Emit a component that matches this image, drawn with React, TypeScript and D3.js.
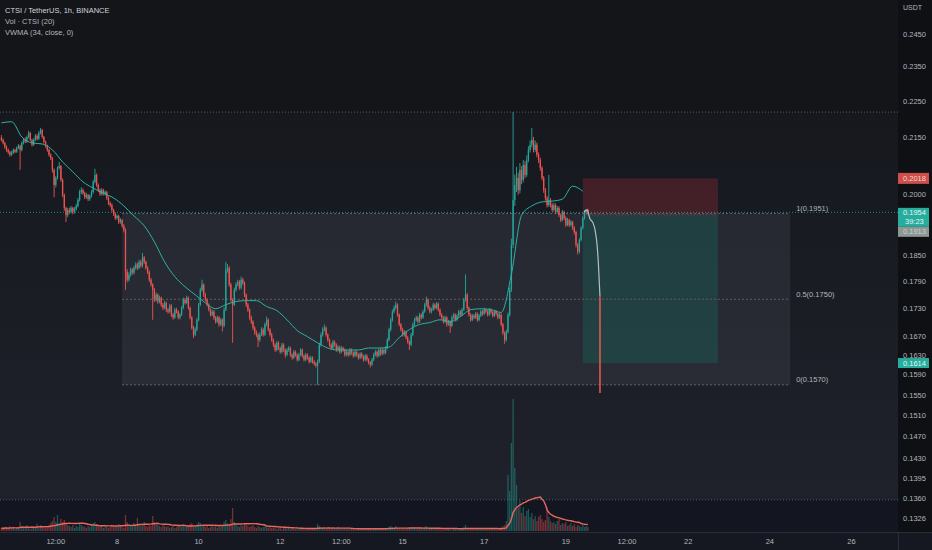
import React from 'react';
import * as d3 from 'd3';

// 1h candles, CTSI / TetherUS, prices in 1e-4 USDT
const HOUR = 3600000;
const startTime = Date.UTC(2023, 2, 5, 4);
const firstOpen = 2148;

const closes = [
  2142, 2134, 2123, 2115, 2110, 2102, 2107, 2115, 2110, 2120,
  2126, 2115, 2134, 2142, 2137, 2150, 2161, 2142, 2129, 2142,
  2153, 2145, 2161, 2169, 2150, 2137, 2126, 2115, 2102, 2093,
  2062, 2023, 2041, 2067, 2072, 2036, 1997, 1965, 1947, 1960,
  1955, 1965, 1955, 1962, 1970, 1985, 2005, 2010, 2002, 1992,
  1997, 1987, 1995, 2005, 2031, 2049, 2023, 2010, 2000, 2010,
  2000, 2005, 1990, 1977, 1972, 1960, 1950, 1940, 1945, 1930,
  1935, 1921, 1911, 1812, 1794, 1805, 1817, 1810, 1821, 1829,
  1821, 1835, 1826, 1845, 1835, 1821, 1812, 1794, 1783, 1771,
  1749, 1760, 1745, 1753, 1738, 1731, 1742, 1727, 1723, 1736,
  1716, 1710, 1727, 1723, 1710, 1716, 1731, 1749, 1742, 1753,
  1731, 1710, 1688, 1673, 1684, 1705, 1738, 1771, 1783, 1760,
  1749, 1738, 1727, 1716, 1723, 1710, 1701, 1710, 1695, 1705,
  1692, 1727, 1817, 1821, 1783, 1749, 1738, 1771, 1783, 1789,
  1776, 1794, 1787, 1760, 1738, 1727, 1710, 1701, 1688, 1678,
  1673, 1662, 1673, 1684, 1673, 1695, 1705, 1684, 1673, 1662,
  1652, 1641, 1656, 1645, 1637, 1652, 1641, 1631, 1641, 1645,
  1631, 1625, 1637, 1631, 1621, 1631, 1641, 1629, 1621, 1631,
  1625, 1617, 1625, 1617, 1613, 1609, 1617, 1652, 1673, 1684,
  1688, 1673, 1662, 1652, 1645, 1658, 1652, 1641, 1647, 1637,
  1645, 1641, 1631, 1637, 1631, 1641, 1635, 1629, 1637, 1631,
  1625, 1633, 1627, 1621, 1629, 1621, 1615, 1611, 1621, 1631,
  1637, 1629, 1641, 1633, 1641, 1635, 1645, 1662, 1684, 1705,
  1723, 1731, 1738, 1716, 1695, 1684, 1673, 1679, 1667, 1658,
  1652, 1673, 1695, 1705, 1710, 1701, 1716, 1710, 1723, 1738,
  1749, 1731, 1723, 1727, 1738, 1731, 1740, 1727, 1716, 1710,
  1701, 1710, 1695, 1701, 1692, 1710, 1716, 1705, 1714, 1723,
  1716, 1727, 1749, 1760, 1731, 1716, 1705, 1714, 1710, 1718,
  1705, 1714, 1723, 1718, 1727, 1723, 1716, 1727, 1721, 1714,
  1723, 1718, 1710, 1716, 1695, 1677, 1662, 1679, 1716, 1771,
  1875, 1985, 2023, 2041, 2010, 2062, 2036, 2075, 2049, 2088,
  2115, 2129, 2142, 2115, 2129, 2102, 2088, 2067, 2041, 2010,
  1990, 1972, 1985, 1972, 1960, 1972, 1955, 1965, 1947, 1935,
  1955, 1940, 1923, 1935, 1923, 1930, 1916, 1906, 1875, 1859,
  1887, 1916, 1940, 1955, 1960, 1954,
];

const highs = [
  2155, 2146, 2137, 2127, 2119, 2113, 2112, 2119, 2118, 2124,
  2131, 2129, 2138, 2147, 2149, 2154, 2167, 2164, 2145, 2147,
  2158, 2157, 2166, 2175, 2172, 2153, 2140, 2129, 2118, 2106,
  2096, 2066, 2046, 2071, 2083, 2075, 2040, 2001, 1968, 1965,
  1966, 1970, 1968, 1967, 1975, 1990, 2011, 2017, 2014, 2006,
  2003, 2000, 1999, 2010, 2036, 2065, 2053, 2027, 2014, 2015,
  2013, 2009, 2008, 1994, 1981, 1976, 1963, 1954, 1949, 1948,
  1940, 1938, 1925, 1915, 1818, 1811, 1822, 1821, 1826, 1834,
  1833, 1840, 1839, 1856, 1849, 1838, 1825, 1815, 1798, 1786,
  1775, 1765, 1763, 1758, 1756, 1742, 1747, 1745, 1731, 1740,
  1739, 1720, 1731, 1731, 1726, 1720, 1735, 1754, 1753, 1758,
  1756, 1734, 1713, 1692, 1689, 1709, 1742, 1776, 1794, 1786,
  1764, 1752, 1741, 1730, 1727, 1726, 1713, 1714, 1713, 1709,
  1708, 1732, 1835, 1830, 1825, 1787, 1752, 1776, 1788, 1794,
  1793, 1801, 1798, 1790, 1763, 1742, 1730, 1714, 1704, 1691,
  1682, 1676, 1678, 1689, 1688, 1699, 1712, 1708, 1687, 1677,
  1665, 1655, 1660, 1659, 1648, 1656, 1655, 1644, 1645, 1649,
  1648, 1634, 1641, 1640, 1634, 1635, 1645, 1644, 1632, 1635,
  1634, 1628, 1629, 1628, 1620, 1616, 1621, 1656, 1678, 1689,
  1695, 1691, 1676, 1665, 1655, 1662, 1661, 1655, 1651, 1650,
  1649, 1648, 1644, 1641, 1640, 1645, 1644, 1638, 1641, 1640,
  1634, 1637, 1636, 1630, 1633, 1632, 1624, 1618, 1625, 1635,
  1641, 1640, 1645, 1644, 1645, 1644, 1649, 1666, 1688, 1709,
  1727, 1736, 1745, 1741, 1719, 1698, 1688, 1683, 1682, 1670,
  1661, 1677, 1699, 1709, 1714, 1713, 1720, 1719, 1727, 1742,
  1756, 1752, 1735, 1731, 1742, 1741, 1744, 1743, 1730, 1719,
  1713, 1714, 1713, 1705, 1704, 1714, 1720, 1719, 1718, 1727,
  1726, 1731, 1753, 1806, 1764, 1734, 1719, 1718, 1717, 1722,
  1721, 1718, 1727, 1726, 1731, 1730, 1726, 1731, 1730, 1724,
  1727, 1726, 1721, 1720, 1719, 1698, 1680, 1684, 1721, 1777,
  1890, 2219, 2050, 2070, 2055, 2080, 2072, 2088, 2085, 2100,
  2125, 2140, 2175, 2150, 2140, 2135, 2108, 2094, 2072, 2046,
  2015, 1995, 2049, 1990, 1977, 1978, 1976, 1970, 1969, 1951,
  1960, 1958, 1944, 1940, 1938, 1935, 1933, 1920, 1909, 1879,
  1891, 1920, 1944, 1959, 1962, 1963,
];

const lows = [
  2138, 2130, 2118, 2110, 2104, 2097, 2099, 2104, 2106, 2107,
  2117, 2062, 2111, 2130, 2133, 2134, 2146, 2138, 2124, 2126,
  2139, 2140, 2142, 2157, 2146, 2132, 2121, 2110, 2097, 2088,
  2055, 1992, 2017, 2037, 2063, 2031, 1992, 1958, 1930, 1942,
  1950, 1951, 1949, 1951, 1958, 1966, 1981, 2000, 1997, 1987,
  1988, 1982, 1983, 1991, 2001, 2027, 2018, 2005, 1995, 1996,
  1996, 1996, 1985, 1972, 1967, 1955, 1945, 1935, 1936, 1925,
  1926, 1916, 1905, 1771, 1788, 1790, 1801, 1805, 1806, 1817,
  1816, 1818, 1822, 1822, 1830, 1817, 1807, 1789, 1778, 1705,
  1744, 1745, 1740, 1741, 1733, 1726, 1728, 1722, 1718, 1720,
  1711, 1705, 1707, 1719, 1706, 1706, 1713, 1728, 1738, 1739,
  1727, 1706, 1684, 1666, 1670, 1680, 1702, 1735, 1767, 1755,
  1745, 1734, 1723, 1712, 1713, 1705, 1697, 1698, 1690, 1692,
  1680, 1689, 1724, 1810, 1778, 1744, 1656, 1735, 1767, 1779,
  1771, 1772, 1782, 1755, 1733, 1722, 1705, 1696, 1683, 1673,
  1668, 1647, 1658, 1670, 1669, 1670, 1691, 1680, 1669, 1658,
  1647, 1637, 1638, 1641, 1633, 1634, 1637, 1625, 1628, 1637,
  1627, 1621, 1622, 1627, 1617, 1618, 1628, 1625, 1617, 1618,
  1621, 1613, 1614, 1613, 1609, 1605, 1570, 1614, 1648, 1669,
  1680, 1669, 1658, 1648, 1641, 1642, 1648, 1637, 1638, 1633,
  1634, 1637, 1627, 1628, 1627, 1628, 1631, 1625, 1626, 1627,
  1621, 1622, 1623, 1617, 1618, 1617, 1611, 1605, 1608, 1618,
  1628, 1625, 1626, 1629, 1630, 1631, 1632, 1642, 1659, 1680,
  1701, 1719, 1727, 1712, 1691, 1680, 1669, 1669, 1663, 1654,
  1641, 1649, 1670, 1691, 1701, 1697, 1698, 1706, 1707, 1720,
  1734, 1727, 1719, 1719, 1724, 1727, 1728, 1723, 1712, 1706,
  1697, 1698, 1690, 1692, 1677, 1689, 1706, 1701, 1702, 1710,
  1712, 1713, 1724, 1745, 1727, 1712, 1701, 1702, 1706, 1707,
  1701, 1702, 1711, 1714, 1715, 1719, 1712, 1713, 1717, 1710,
  1711, 1714, 1706, 1707, 1691, 1672, 1654, 1659, 1676, 1712,
  1766, 1868, 1970, 2005, 1998, 2002, 2025, 2030, 2040, 2044,
  2082, 2108, 2122, 2108, 2110, 2095, 2080, 2060, 2035, 2003,
  1983, 1966, 1968, 1966, 1955, 1956, 1950, 1951, 1942, 1930,
  1932, 1935, 1918, 1920, 1918, 1919, 1911, 1900, 1869, 1852,
  1855, 1883, 1912, 1936, 1950, 1948,
];

// volume, 100k CTSI
const volumes = [
  3, 2, 4, 3, 2, 5, 3, 4, 2, 3,
  4, 9, 5, 3, 4, 6, 3, 2, 5, 4,
  3, 7, 5, 6, 4, 3, 5, 4, 6, 8,
  10, 14, 9, 16, 8, 12, 9, 11, 7, 6,
  5, 4, 6, 3, 5, 4, 7, 6, 5, 4,
  3, 5, 4, 6, 8, 9, 7, 5, 4, 6,
  3, 4, 5, 3, 4, 6, 5, 4, 5, 7,
  6, 4, 3, 16, 9, 7, 6, 5, 8, 6,
  13, 7, 5, 6, 9, 5, 4, 6, 5, 15,
  9, 7, 6, 5, 4, 6, 5, 4, 5, 3,
  4, 5, 3, 4, 6, 5, 4, 7, 5, 6,
  5, 7, 8, 6, 5, 7, 9, 8, 6, 5,
  4, 5, 3, 4, 5, 4, 6, 3, 5, 4,
  6, 9, 11, 8, 7, 12, 23, 9, 6, 5,
  4, 6, 5, 7, 6, 5, 4, 5, 6, 4,
  3, 5, 4, 3, 4, 6, 5, 3, 4, 3,
  4, 3, 2, 3, 4, 2, 3, 3, 2, 3,
  2, 3, 2, 2, 3, 2, 3, 2, 2, 3,
  2, 3, 2, 2, 3, 3, 7, 5, 4, 3,
  3, 2, 3, 2, 2, 3, 2, 2, 3, 2,
  2, 2, 3, 2, 2, 3, 2, 2, 2, 3,
  2, 2, 2, 3, 2, 2, 3, 3, 2, 2,
  2, 3, 2, 2, 2, 3, 2, 3, 4, 5,
  4, 3, 5, 3, 3, 2, 3, 2, 2, 3,
  3, 3, 2, 3, 2, 2, 3, 2, 3, 4,
  5, 3, 2, 3, 2, 2, 3, 2, 2, 2,
  2, 2, 3, 2, 3, 2, 2, 2, 2, 2,
  2, 3, 4, 6, 3, 2, 2, 2, 3, 2,
  2, 2, 3, 2, 2, 2, 3, 2, 2, 2,
  2, 3, 2, 2, 4, 5, 6, 10, 56, 40,
  88, 132, 63, 46, 25, 31, 18, 24, 15, 20,
  22, 14, 18, 12, 15, 10, 14, 16, 12, 9,
  11, 24, 14, 10, 8, 9, 7, 10, 12, 6,
  8, 7, 9, 5, 6, 8, 5, 7, 4, 6,
  5, 4, 6, 4, 5, 4,
];

// VWMA(34) read every 6 bars
const vwmaStep = 6;
const vwma34 = [
  2189, 2192, 2150, 2134, 2131, 2115, 2083, 2057, 2031, 2015,
  2002, 1990, 1970, 1945, 1921, 1882, 1835, 1801, 1778, 1760,
  1742, 1729, 1738, 1745, 1747, 1747, 1734, 1725, 1705, 1682,
  1669, 1656, 1645, 1641, 1641, 1641, 1645, 1645, 1647, 1667,
  1684, 1695, 1699, 1705, 1701, 1712, 1727, 1729, 1727, 1721,
  1806, 1947, 1970, 1980, 1982, 1987, 2020, 2007,
];
const volMaLength = 20;

const lastPrice = 0.1954;
const bandTop = 0.2219;
const bandBottom = 0.1357;

const fibStartHour = 71;
const fibEndHour = 464;
const fibLevels = [
  { ratio: '1', price: 0.1951 },
  { ratio: '0.5', price: 0.175 },
  { ratio: '0', price: 0.157 },
];

const positionStartHour = 342;
const positionEndHour = 421.5;
const positionStop = 0.204;
const positionEntry = 0.1948;
const positionTarget = 0.1614;

// hand-drawn projection after the last bar: [hour, price]
const projection: [number, number][] = [
  [342.7, 0.1955], [344.5, 0.196], [346.2, 0.1938], [348, 0.1928],
  [349.2, 0.1911], [350.4, 0.1875], [351.2, 0.1829], [352.1, 0.1756],
];
const dropLine: [number, number][] = [[352.1, 0.1756], [352.1, 0.1554]];

const priceTicks = [
  0.245, 0.235, 0.225, 0.215, 0.2, 0.185, 0.179,
  0.173, 0.167, 0.163, 0.159, 0.155, 0.151, 0.147, 0.143, 0.1395, 0.136, 0.1326,
];

const timeTicks: [number, number, string][] = [
  [6, 12, '12:00'], [8, 0, '8'], [10, 0, '10'], [12, 0, '12'], [13, 12, '12:00'],
  [15, 0, '15'], [17, 0, '17'], [19, 0, '19'], [20, 12, '12:00'], [22, 0, '22'],
  [24, 0, '24'], [26, 0, '26'],
];

const legendLines = ['CTSI / TetherUS, 1h, BINANCE', 'Vol · CTSI (20)', 'VWMA (34, close, 0)'];

const UP = '#26a69a';
const DOWN = '#ef5350';
const FONT = '"Liberation Sans", Arial, sans-serif';

const W = 932;
const H = 550;
const plotRight = 898;
const plotBottom = 532;

export default function App() {
  const hourTime = (h: number) => new Date(startTime + h * HOUR);

  const x = d3
    .scaleTime()
    .domain([new Date(Date.UTC(2023, 2, 8)), new Date(Date.UTC(2023, 2, 10))])
    .range([117, 198.6]);
  const y = d3.scaleLog().domain([0.245, 0.1326]).range([34, 518]);
  const vy = d3.scaleLinear().domain([0, 140]).range([531, 391]);

  const candles = closes.map((c, i) => ({
    t: hourTime(i),
    o: (i === 0 ? firstOpen : closes[i - 1]) / 1e4,
    h: highs[i] / 1e4,
    l: lows[i] / 1e4,
    c: c / 1e4,
    v: volumes[i],
  }));

  const volMa = volumes.map((_, i) =>
    d3.mean(volumes.slice(Math.max(0, i - volMaLength + 1), i + 1)) as number
  );

  const line = d3.line<[number, number]>().x((d) => d[0]).y((d) => d[1]);
  const smooth = d3
    .line<[number, number]>()
    .x((d) => d[0])
    .y((d) => d[1])
    .curve(d3.curveMonotoneX);

  const vwmaPath = smooth(
    vwma34.map((v, k) => [x(hourTime(k * vwmaStep)), y(v / 1e4)] as [number, number])
  );
  const volMaPath = line(volMa.map((v, i) => [x(candles[i].t), vy(v)] as [number, number]));
  const projPath = smooth(projection.map(([h, p]) => [x(hourTime(h)), y(p)] as [number, number]));
  const dropPath = line(dropLine.map(([h, p]) => [x(hourTime(h)), y(p)] as [number, number]));

  const fibX0 = x(hourTime(fibStartHour));
  const fibX1 = x(hourTime(fibEndHour));
  const posX0 = x(hourTime(positionStartHour));
  const posX1 = x(hourTime(positionEndHour));

  const bw = 1.3;

  const axisBox = (key: string, price: number, fill: string, text: string, color: string, h = 11) => (
    <g key={key}>
      <rect x={plotRight} y={y(price) - h / 2} width={31} height={h} fill={fill} />
      <text x={903} y={y(price)} dy="0.35em" fontSize={7.5} fill={color}>
        {text}
      </text>
    </g>
  );

  return (
    <svg
      width={W}
      height={H}
      style={{ position: 'absolute', left: 0, top: 0, display: 'block' }}
      fontFamily={FONT}
    >
      <defs>
        <linearGradient id="band" x1="0" y1="0" x2="0" y2="1">
          <stop offset="0%" stopColor="#16181e" />
          <stop offset="100%" stopColor="#1f222b" />
        </linearGradient>
      </defs>

      <rect width={W} height={H} fill="#131519" />
      <rect x={0} y={y(bandTop)} width={plotRight} height={y(bandBottom) - y(bandTop)} fill="url(#band)" />
      <rect x={0} y={y(bandBottom)} width={plotRight} height={plotBottom - y(bandBottom)} fill="#131620" />

      {/* fib retracement box */}
      <rect
        x={fibX0}
        y={y(fibLevels[0].price)}
        width={fibX1 - fibX0}
        height={y(fibLevels[2].price) - y(fibLevels[0].price)}
        fill="rgba(120,126,140,0.14)"
      />

      {/* short position tool */}
      <rect
        x={posX0}
        y={y(positionStop)}
        width={posX1 - posX0}
        height={y(positionEntry) - y(positionStop)}
        fill="rgba(242,54,69,0.2)"
      />
      <rect
        x={posX0}
        y={y(positionEntry)}
        width={posX1 - posX0}
        height={y(positionTarget) - y(positionEntry)}
        fill="rgba(8,153,129,0.2)"
      />
      <line
        x1={posX0}
        x2={posX1}
        y1={y(positionEntry)}
        y2={y(positionEntry)}
        stroke="#8c3f45"
        strokeDasharray="1 2"
      />

      {/* horizontal dotted lines */}
      {[bandTop, bandBottom].map((p) => (
        <line key={p} x1={0} x2={plotRight} y1={y(p)} y2={y(p)} stroke="#456571" strokeDasharray="1 2" />
      ))}
      {fibLevels.map((f) => (
        <line
          key={f.ratio}
          x1={fibX0}
          x2={fibX1}
          y1={y(f.price)}
          y2={y(f.price)}
          stroke={f.ratio === '0.5' ? '#6b5a62' : '#5f636e'}
          strokeDasharray="2 2"
        />
      ))}
      <line x1={0} x2={plotRight} y1={y(lastPrice)} y2={y(lastPrice)} stroke={UP} strokeDasharray="1 2" opacity={0.8} />

      {/* volume */}
      {candles.map((d, i) => (
        <rect
          key={'v' + i}
          x={x(d.t) - bw / 2}
          y={vy(d.v)}
          width={bw}
          height={vy(0) - vy(d.v)}
          fill={d.c >= d.o ? UP : DOWN}
          opacity={0.45}
        />
      ))}
      <path d={volMaPath || ''} fill="none" stroke="#e8685c" strokeWidth={1.4} />

      {/* candles */}
      {candles.map((d, i) => {
        const cx = x(d.t);
        const col = d.c >= d.o ? UP : DOWN;
        const top = y(Math.max(d.o, d.c));
        const bot = y(Math.min(d.o, d.c));
        return (
          <g key={'c' + i}>
            <line x1={cx} x2={cx} y1={y(d.h)} y2={y(d.l)} stroke={col} strokeWidth={0.9} />
            <rect x={cx - bw / 2} y={top} width={bw} height={Math.max(0.8, bot - top)} fill={col} />
          </g>
        );
      })}

      <path d={vwmaPath || ''} fill="none" stroke="#2bb3a4" strokeWidth={1} />
      <path d={projPath || ''} fill="none" stroke="#b8bcc4" strokeWidth={1.2} />
      <path d={dropPath || ''} fill="none" stroke="#ee5a50" strokeWidth={1.5} />

      {/* fib labels */}
      {fibLevels.map((f) => (
        <text key={'fl' + f.ratio} x={fibX1 + 6} y={y(f.price) - 2.5} fontSize={7.5} fill="#b2b5be">
          {`${f.ratio}(${f.price.toFixed(4)})`}
        </text>
      ))}

      {/* legend */}
      {legendLines.map((t, i) => (
        <text key={t} x={5} y={13 + i * 11} fontSize={7.5} fill={i === 0 ? '#d1d4dc' : '#b2b5be'}>
          {t}
        </text>
      ))}

      {/* price axis */}
      <rect x={plotRight} y={0} width={W - plotRight} height={H} fill="#0e1013" />
      <text x={903} y={10} fontSize={7} fill="#b2b5be">
        USDT
      </text>
      {priceTicks.map((p) => (
        <text key={p} x={903} y={y(p)} dy="0.35em" fontSize={7.5} fill="#b2b5be">
          {p.toFixed(4)}
        </text>
      ))}
      {axisBox('stop', positionStop, '#cc4f49', '0.2018', '#f0d5d3')}
      <rect x={plotRight} y={y(lastPrice) - 4.5} width={31} height={19} fill="#27ad9e" />
      <text x={903} y={y(lastPrice)} dy="0.35em" fontSize={7.5} fill="#e6f5f3">
        {lastPrice.toFixed(4)}
      </text>
      <text x={905} y={y(lastPrice) + 9} dy="0.35em" fontSize={7.5} fill="#e6f5f3">
        39:23
      </text>
      <rect x={plotRight} y={y(lastPrice) + 14.5} width={31} height={10} fill="#8d9894" />
      <text x={903} y={y(lastPrice) + 19.5} dy="0.35em" fontSize={7.5} fill="#c9d0cd">
        0.1913
      </text>
      {axisBox('target', positionTarget, '#27ad9e', positionTarget.toFixed(4), '#e6f5f3', 10)}

      {/* time axis */}
      <rect x={0} y={plotBottom} width={W} height={H - plotBottom} fill="#151821" />
      <line x1={0} x2={W} y1={plotBottom + 0.5} y2={plotBottom + 0.5} stroke="#2a2e39" />
      <line x1={plotRight + 0.5} x2={plotRight + 0.5} y1={plotBottom} y2={H} stroke="#2a2e39" />
      {timeTicks.map(([day, hr, label]) => (
        <text
          key={label + day}
          x={x(new Date(Date.UTC(2023, 2, day, hr)))}
          y={544}
          textAnchor="middle"
          fontSize={7.5}
          fill="#b2b5be"
        >
          {label}
        </text>
      ))}
    </svg>
  );
}
